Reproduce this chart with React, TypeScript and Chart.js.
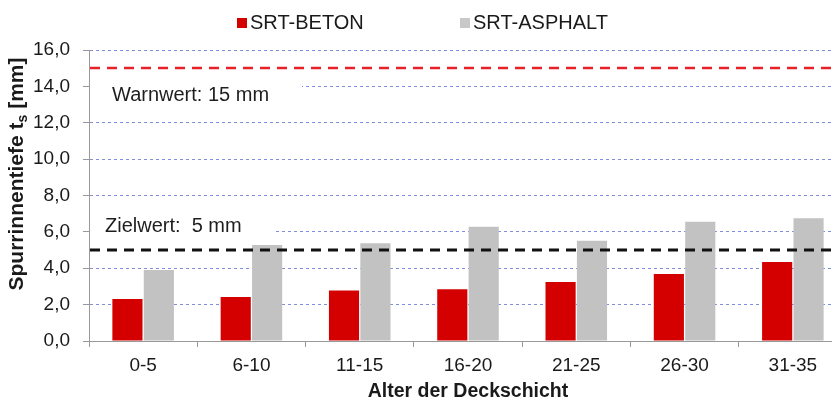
import { useEffect, useRef } from 'react';
import { Chart, registerables } from 'chart.js';

Chart.register(...registerables);

// ---- data ----
const categories = ['0-5', '6-10', '11-15', '16-20', '21-25', '26-30', '31-35'];
const betonValues = [2.31, 2.42, 2.77, 2.84, 3.24, 3.68, 4.34];
const asphaltValues = [3.9, 5.28, 5.37, 6.28, 5.51, 6.56, 6.75];
const seriesLabels = ['SRT-BETON', 'SRT-ASPHALT'];
const warnValue = 15;
const targetValue = 5;
const warnLabel = 'Warnwert: 15 mm';
const targetLabel = 'Zielwert:  5 mm';
const yTitleMain = 'Spurrinnentiefe t';
const yTitleSub = 's';
const yTitleEnd = ' [mm]';
const xAxisTitle = 'Alter der Deckschicht';
const yMin = 0;
const yMax = 16;
const yStep = 2;

const FONT = "'Liberation Sans', Arial, Helvetica, sans-serif";
const RED = '#d40000';
const GRAY = '#c2c2c2';

const overlayPlugin = {
  id: 'overlay',
  beforeDatasetsDraw(chart: any) {
    const { ctx, chartArea, scales } = chart;
    const y = scales.y;
    ctx.save();
    const boxes = [
      { text: warnLabel, value: warnValue, dy: 27, w: 212, tx: 23 },
      { text: targetLabel, value: targetValue, dy: -24, w: 185, tx: 16 },
    ];
    ctx.font = `20px ${FONT}`;
    ctx.textBaseline = 'middle';
    ctx.textAlign = 'left';
    boxes.forEach((b) => {
      const cy = y.getPixelForValue(b.value) + b.dy;
      ctx.fillStyle = '#ffffff';
      ctx.fillRect(chartArea.left + 1, cy - 15, b.w, 30);
      ctx.fillStyle = '#1e1e1e';
      ctx.fillText(b.text, chartArea.left + b.tx, cy);
    });
    ctx.restore();
  },
  afterDatasetsDraw(chart: any) {
    const { ctx, chartArea, scales } = chart;
    const y = scales.y;
    ctx.save();
    const lines = [
      { value: warnValue, color: '#e8202a', width: 2.5 },
      { value: targetValue, color: '#111111', width: 3 },
    ];
    lines.forEach((l) => {
      const py = Math.round(y.getPixelForValue(l.value));
      ctx.beginPath();
      ctx.setLineDash([10, 7]);
      ctx.strokeStyle = l.color;
      ctx.lineWidth = l.width;
      ctx.moveTo(chartArea.left + 1, py);
      ctx.lineTo(chartArea.right, py);
      ctx.stroke();
    });
    ctx.restore();
  },
  afterDraw(chart: any) {
    const { ctx } = chart;
    ctx.save();
    const legendX = [237, 460];
    const legendColors = [RED, '#c8c8c8'];
    ctx.font = `20px ${FONT}`;
    ctx.textBaseline = 'middle';
    ctx.textAlign = 'left';
    chart.data.datasets.forEach((ds: any, i: number) => {
      ctx.fillStyle = legendColors[i];
      ctx.fillRect(legendX[i], 18, 10, 10);
      ctx.fillStyle = '#1a1a1a';
      ctx.fillText(ds.label, legendX[i] + 13, 23);
    });
    ctx.translate(16, 174);
    ctx.rotate(-Math.PI / 2);
    const mainFont = `bold 21px ${FONT}`;
    const subFont = `bold 14px ${FONT}`;
    ctx.font = mainFont;
    const w1 = ctx.measureText(yTitleMain).width;
    const w3 = ctx.measureText(yTitleEnd).width;
    ctx.font = subFont;
    const w2 = ctx.measureText(yTitleSub).width;
    const total = w1 + w2 + w3;
    let x = -total / 2;
    ctx.fillStyle = '#1a1a1a';
    ctx.textBaseline = 'alphabetic';
    ctx.font = mainFont;
    ctx.fillText(yTitleMain, x, 7);
    x += w1;
    ctx.font = subFont;
    ctx.fillText(yTitleSub, x, 11);
    x += w2;
    ctx.font = mainFont;
    ctx.fillText(yTitleEnd, x, 7);
    ctx.restore();
  },
};

export default function App() {
  const ref = useRef<HTMLCanvasElement | null>(null);

  useEffect(() => {
    document.body.style.margin = '0';
    const canvas = ref.current;
    if (!canvas) return;
    const chart = new Chart(canvas, {
      type: 'bar',
      data: {
        labels: categories,
        datasets: [
          {
            label: seriesLabels[0],
            data: betonValues,
            backgroundColor: RED,
            barPercentage: 0.96,
            categoryPercentage: 0.58,
          },
          {
            label: seriesLabels[1],
            data: asphaltValues,
            backgroundColor: GRAY,
            barPercentage: 0.96,
            categoryPercentage: 0.58,
          },
        ],
      },
      options: {
        animation: false,
        responsive: false,
        maintainAspectRatio: false,
        layout: { padding: { left: 0, right: 13, top: 50, bottom: 0 } },
        plugins: {
          legend: { display: false },
          tooltip: { enabled: false },
        },
        scales: {
          x: {
            grid: {
              offset: true,
              drawOnChartArea: false,
              drawTicks: true,
              tickLength: 6,
              tickColor: '#999999',
            },
            border: { color: '#999999', width: 1 },
            ticks: {
              color: '#1a1a1a',
              font: { family: FONT, size: 19 },
              padding: 7,
              autoSkip: false,
              maxRotation: 0,
            },
            title: {
              display: true,
              text: xAxisTitle,
              color: '#1a1a1a',
              font: { family: FONT, size: 19.5, weight: 'bold' },
              padding: { top: 0, bottom: 0 },
            },
            afterFit(scale: any) {
              scale.height = 62;
            },
          },
          y: {
            min: yMin,
            max: yMax,
            ticks: {
              stepSize: yStep,
              color: '#1a1a1a',
              font: { family: FONT, size: 19 },
              padding: 13,
              callback: (v: any) => Number(v).toFixed(1).replace('.', ','),
            },
            grid: {
              color: (c: any) => (c.tick && c.tick.value === 0 ? 'rgba(0,0,0,0)' : 'rgba(95,115,210,0.8)'),
              lineWidth: 1,
              drawTicks: true,
              tickLength: 6,
              tickColor: '#999999',
              tickBorderDash: [],
            },
            border: { color: '#999999', width: 1, dash: [3, 3] },
            afterFit(scale: any) {
              scale.width = 89;
            },
          },
        },
      },
      plugins: [overlayPlugin],
    });
    return () => chart.destroy();
  }, []);

  return (
    <div style={{ width: 832, height: 403, overflow: 'hidden', background: '#fff' }}>
      <canvas ref={ref} width={860} height={403} style={{ display: 'block' }} />
    </div>
  );
}
